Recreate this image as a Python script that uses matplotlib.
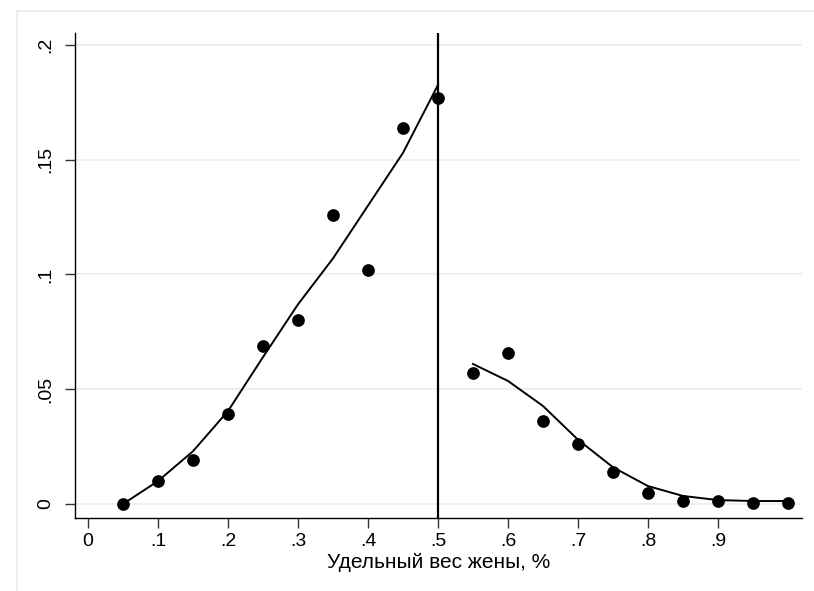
"""Share of wife's weight: observed points with fitted curves on each side of 0.5."""

import matplotlib.pyplot as plt
from matplotlib.patches import Rectangle

# observed shares
x_left = [0.05, 0.10, 0.15, 0.20, 0.25, 0.30, 0.35, 0.40, 0.45, 0.50]
y_left = [0.000, 0.010, 0.019, 0.039, 0.069, 0.080, 0.126, 0.102, 0.164, 0.177]
x_right = [0.55, 0.60, 0.65, 0.70, 0.75, 0.80, 0.85, 0.90, 0.95, 1.00]
y_right = [0.057, 0.066, 0.036, 0.026, 0.014, 0.005, 0.0013, 0.0013, 0.0004, 0.0004]

# fitted values
fit_left = [0.000, 0.010, 0.023, 0.0405, 0.064, 0.087, 0.107, 0.130, 0.153, 0.1826]
fit_right = [0.061, 0.0536, 0.0427, 0.028, 0.016, 0.0078, 0.0035, 0.0017, 0.0013, 0.0013]

cutoff = 0.5
x_ticks = [0, 0.1, 0.2, 0.3, 0.4, 0.5, 0.6, 0.7, 0.8, 0.9]
x_ticklabels = ["0", ".1", ".2", ".3", ".4", ".5", ".6", ".7", ".8", ".9"]
y_ticks = [0, 0.05, 0.1, 0.15, 0.2]
y_ticklabels = ["0", ".05", ".1", ".15", ".2"]
x_title = "Удельный вес жены, %"

plt.rcParams["font.family"] = ["Liberation Sans", "DejaVu Sans"]

fig = plt.figure(figsize=(8.14, 5.91), dpi=100)
fig.patches.append(Rectangle((17 / 814, -0.1), 1.1, (591 - 11) / 591 + 0.1,
                             transform=fig.transFigure, fill=False,
                             edgecolor="#e6eef0", linewidth=1.2))

ax = fig.add_axes([75 / 814, (591 - 518) / 591, (802 - 75) / 814, (518 - 33) / 591])

ax.set_xlim(-0.0186, 1.02)
ax.set_ylim(-0.0061, 0.2052)

for yt in y_ticks:
    ax.axhline(yt, color="#eaf1f3", linewidth=1.4, zorder=0)

ax.plot(x_left, fit_left, color="black", linewidth=1.4)
ax.plot(x_right, fit_right, color="black", linewidth=1.4)
ax.scatter(x_left + x_right, y_left + y_right, s=66, color="black", zorder=3)
ax.axvline(cutoff, color="black", linewidth=1.6)

ax.set_xticks(x_ticks)
ax.set_xticklabels(x_ticklabels, fontsize=14)
ax.set_yticks(y_ticks)
ax.set_yticklabels(y_ticklabels, fontsize=14, rotation=90, va="center")
ax.tick_params(axis="both", length=7, width=1, color="#333333", pad=4)
ax.tick_params(axis="y", pad=8)
ax.set_xlabel(x_title, fontsize=15, labelpad=2)

for side in ("top", "right"):
    ax.spines[side].set_visible(False)
for side in ("left", "bottom"):
    ax.spines[side].set_linewidth(1.0)

fig.savefig("out.png", dpi=100)
plt.close(fig)
